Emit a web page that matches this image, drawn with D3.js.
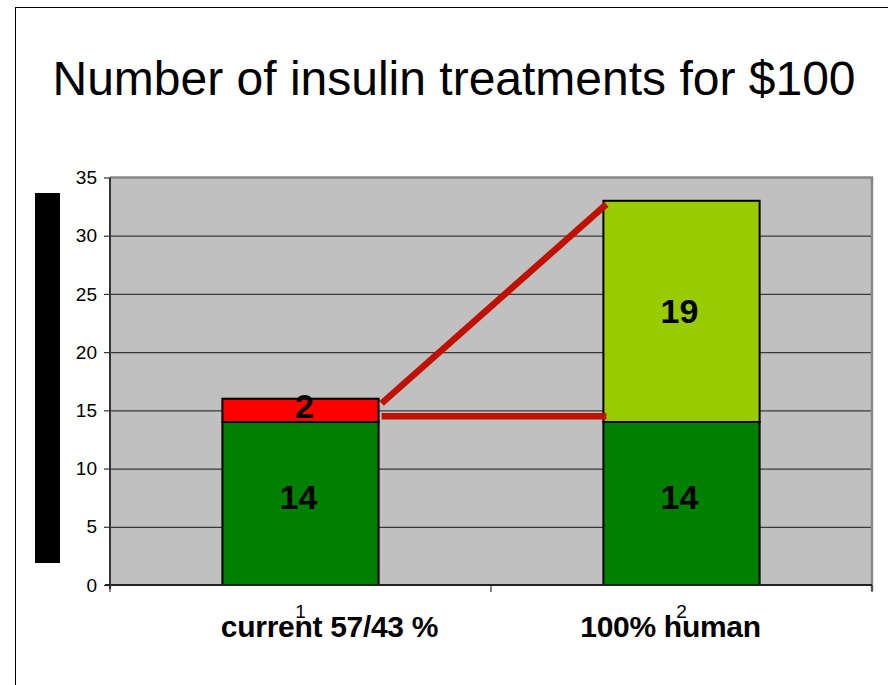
<!DOCTYPE html>
<html>
<head>
<meta charset="utf-8">
<script src="https://cdn.jsdelivr.net/npm/d3@7"></script>
<style>
  body { margin: 0; background: #fff; }
  svg { display: block; font-family: "Liberation Sans", Arial, sans-serif; }
</style>
</head>
<body>
<svg id="chart" width="888" height="685"></svg>
<script>
// chart values
var categories = ["1", "2"];
var categoryNames = ["current 57/43 %", "100% human"];
var baseValues = [14, 14];
var topValues = [2, 19];
var topColors = ["#ff0000", "#99cc00"];
var yTicks = [0, 5, 10, 15, 20, 25, 30, 35];
// red connector lines (value at bar 1 edge, value at bar 2 edge)
var riseLine = [15.6, 32.7];
var flatLine = [14.5, 14.5];

(function () {
var svg = d3.select("#chart");

// outer frame
svg.append("rect")
    .attr("x", 15.5).attr("y", 7.5)
    .attr("width", 900).attr("height", 700)
    .attr("fill", "none").attr("stroke", "#000").attr("stroke-width", 1);

svg.append("text")
    .attr("x", 454).attr("y", 95)
    .attr("text-anchor", "middle")
    .style("font-size", "48px")
    .text("Number of insulin treatments for $100");

var pLeft = 110, pRight = 872, pTop = 177.5, pBottom = 585;

var x = d3.scaleBand().domain(categories).range([pLeft, pRight]).padding(0);
var y = d3.scaleLinear().domain([0, 35]).range([pBottom, pTop]);
var barW = x.bandwidth() * 0.41;

// plot background
svg.append("rect")
    .attr("x", pLeft).attr("y", pTop)
    .attr("width", pRight - pLeft).attr("height", pBottom - pTop)
    .attr("fill", "#c0c0c0");

// gridlines
var grid = svg.append("g")
    .attr("transform", "translate(" + pLeft + ",0)")
    .call(d3.axisLeft(y).tickValues(yTicks.slice(1, -1)).tickSize(-(pRight - pLeft)).tickFormat(""));
grid.select(".domain").remove();
grid.selectAll("line").attr("stroke", "#3a3a3a").attr("stroke-width", 1.2);

// plot border top / right
svg.append("path")
    .attr("d", "M" + pLeft + "," + pTop + "H" + pRight + "V" + (pBottom + 6))
    .attr("fill", "none").attr("stroke", "#888").attr("stroke-width", 2.5);

// y axis
var yAxis = svg.append("g")
    .attr("transform", "translate(" + pLeft + ",0)")
    .call(d3.axisLeft(y).tickValues(yTicks).tickSize(6).tickPadding(7).tickSizeOuter(0));
yAxis.select(".domain").attr("stroke", "#333").attr("stroke-width", 2)
    .attr("d", "M0," + pTop + "V" + (pBottom + 4));
yAxis.selectAll("line").attr("stroke", "#333").attr("stroke-width", 1.2);
yAxis.selectAll("text")
    .style("font-size", "19px")
    .style("font-family", "Liberation Sans, Arial, sans-serif")
    .attr("fill", "#000");

// bars
svg.append("g").selectAll("rect")
    .data(categories).join("rect")
    .attr("x", function (d) { return x(d) + (x.bandwidth() - barW) / 2; })
    .attr("y", function (d, i) { return y(baseValues[i]); })
    .attr("width", barW)
    .attr("height", function (d, i) { return y(0) - y(baseValues[i]); })
    .attr("fill", "#008000").attr("stroke", "#000").attr("stroke-width", 2);

svg.append("g").selectAll("rect")
    .data(categories).join("rect")
    .attr("x", function (d) { return x(d) + (x.bandwidth() - barW) / 2; })
    .attr("y", function (d, i) { return y(baseValues[i] + topValues[i]); })
    .attr("width", barW)
    .attr("height", function (d, i) { return y(baseValues[i]) - y(baseValues[i] + topValues[i]); })
    .attr("fill", function (d, i) { return topColors[i]; })
    .attr("stroke", "#000").attr("stroke-width", 2);

// x axis
var xAxis = svg.append("g")
    .attr("transform", "translate(0," + pBottom + ")")
    .call(d3.axisBottom(x).tickSize(0).tickPadding(20).tickSizeOuter(0));
xAxis.select(".domain").attr("stroke", "#222").attr("stroke-width", 2)
    .attr("d", "M" + (pLeft - 5) + ",0H" + pRight);
xAxis.selectAll("text")
    .style("font-size", "19px")
    .style("font-family", "Liberation Sans, Arial, sans-serif")
    .attr("fill", "#000");
// boundary tick marks between categories
svg.append("g").selectAll("line")
    .data([pLeft, x(categories[1]), pRight]).join("line")
    .attr("x1", function (d) { return d; }).attr("x2", function (d) { return d; })
    .attr("y1", pBottom).attr("y2", pBottom + 7)
    .attr("stroke", "#333").attr("stroke-width", 1.2);

// category names (sit slightly off the band centres, as in the original)
var nameShift = [29, -11];
svg.append("g").selectAll("text")
    .data(categories).join("text")
    .attr("x", function (d, i) { return x(d) + x.bandwidth() / 2 + nameShift[i]; })
    .attr("y", 637)
    .attr("text-anchor", "middle")
    .style("font-size", "30px").style("font-weight", "bold")
    .style("letter-spacing", "-0.3px")
    .text(function (d, i) { return categoryNames[i]; });

// value labels
var topDy = [-5, -1];
var labels = [];
categories.forEach(function (c, i) {
    labels.push({ c: c, v: baseValues[i], mid: baseValues[i] / 2, dy: -7 });
    labels.push({ c: c, v: topValues[i], mid: baseValues[i] + topValues[i] / 2, dy: topDy[i] });
});
svg.append("g").selectAll("text")
    .data(labels).join("text")
    .attr("x", function (d) { return x(d.c) + x.bandwidth() / 2 + (d.v === 2 ? 4 : -2); })
    .attr("y", function (d) { return y(d.mid) + d.dy; })
    .attr("dy", "0.36em")
    .attr("text-anchor", "middle")
    .style("font-size", "34px").style("font-weight", "bold")
    .text(function (d) { return d.v; });

// red connector lines
var x1 = x(categories[0]) + (x.bandwidth() + barW) / 2 + 3;
var x2 = x(categories[1]) + (x.bandwidth() - barW) / 2 + 3;
[riseLine, flatLine].forEach(function (l) {
    svg.append("line")
        .attr("x1", x1).attr("y1", y(l[0]))
        .attr("x2", x2).attr("y2", y(l[1]))
        .attr("stroke", "#c01000").attr("stroke-width", 6.5);
});

// black block at left (axis title area)
svg.append("rect")
    .attr("x", 35).attr("y", 193)
    .attr("width", 25).attr("height", 370)
    .attr("fill", "#000");
})();
</script>
</body>
</html>
